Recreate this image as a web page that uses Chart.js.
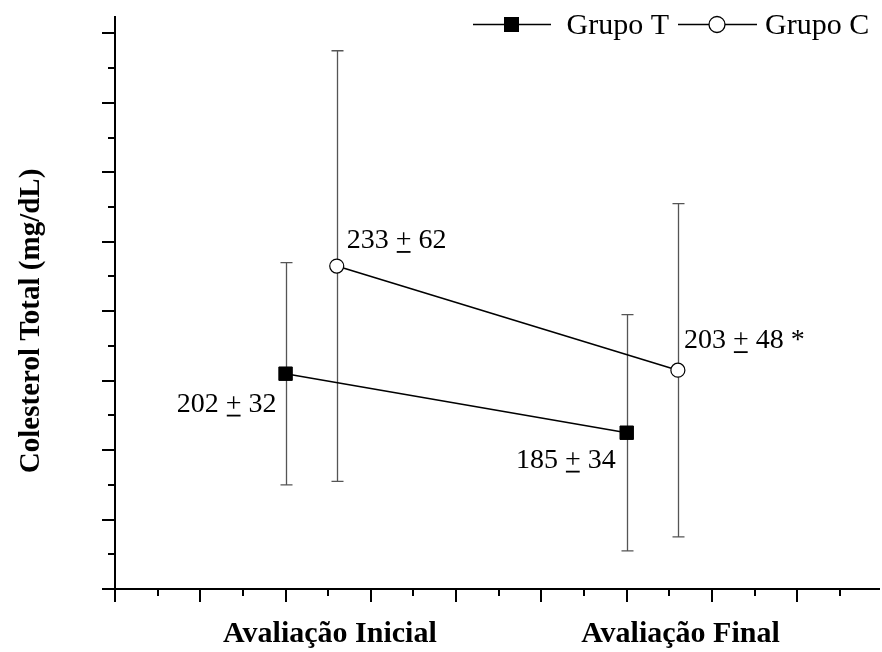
<!DOCTYPE html>
<html>
<head>
<meta charset="utf-8">
<script src="https://cdn.jsdelivr.net/npm/chart.js@4/dist/chart.umd.min.js"></script>
<style>
  html, body { margin: 0; padding: 0; background: #ffffff; }
  #wrap { width: 882px; height: 652px; }
</style>
</head>
<body>
<div id="wrap"><canvas id="chart" width="882" height="652"></canvas></div>
<script>
// Cholesterol means and standard deviations per group and assessment
const categories = ['Avaliação Inicial', 'Avaliação Final'];
const categoryX = [2.52, 6.63];
const groupNames = ['Grupo T', 'Grupo C'];
const groupTx = [2, 6];
const groupTmean = [202, 185];
const groupTsd = [32, 34];
const groupCx = [2.6, 6.6];
const groupCmean = [233, 203];
const groupCsd = [62, 48];
const groupCmark = ['', ' *'];
const groupTmark = ['', ''];
const yTitle = 'Colesterol Total (mg/dL)';

const SERIF = '"Liberation Serif", "Times New Roman", Times, serif';

function toPoints(xs, ys) {
  return xs.map((x, i) => ({ x: x, y: ys[i] }));
}

const seriesInfo = [
  { sd: groupTsd, mean: groupTmean, mark: groupTmark,
    // where each value label sits relative to its point
    place: [{ dx: -9, dy: 38, align: 'right' }, { dx: -11, dy: 35, align: 'right' }] },
  { sd: groupCsd, mean: groupCmean, mark: groupCmark,
    place: [{ dx: 10, dy: -18, align: 'left' }, { dx: 6, dy: -22, align: 'left' }] }
];

// draws text like "233 + 62" with the plus sign underlined
function drawPlusMinusLabel(ctx, mean, sd, mark, x, y, align) {
  const a = mean + ' ', b = '+', c = ' ' + sd + mark;
  const wa = ctx.measureText(a).width, wb = ctx.measureText(b).width, wc = ctx.measureText(c).width;
  const total = wa + wb + wc;
  let x0 = align === 'right' ? x - total : x;
  ctx.textAlign = 'left';
  ctx.textBaseline = 'alphabetic';
  ctx.fillText(a, x0, y);
  ctx.fillText(b, x0 + wa, y);
  ctx.fillText(c, x0 + wa + wb, y);
  ctx.fillRect(x0 + wa + 1, y + 3, wb - 2, 1.8);
}

const decorations = {
  id: 'decorations',
  beforeDatasetsDraw(chart) {
    const ctx = chart.ctx;
    const xs = chart.scales.x, ys = chart.scales.y;
    const area = chart.chartArea;
    ctx.save();
    // axes
    ctx.strokeStyle = '#000';
    ctx.lineWidth = 2;
    ctx.beginPath();
    ctx.moveTo(area.left, area.top);
    ctx.lineTo(area.left, area.bottom);
    ctx.lineTo(area.right, area.bottom);
    ctx.stroke();
    // y ticks (outward, left): major every 20, minor every 10
    for (let v = 140; v <= ys.max + 0.001; v += 10) {
      const py = Math.round(ys.getPixelForValue(v));
      const major = (v % 20) === 0;
      const len = major ? 13 : 7;
      ctx.beginPath();
      ctx.moveTo(area.left - len, py);
      ctx.lineTo(area.left, py);
      ctx.stroke();
    }
    // x ticks (outward, down): major every 1, minor every 0.5
    for (let v = 0; v <= xs.max + 0.001; v += 0.5) {
      const px = Math.round(xs.getPixelForValue(v));
      const major = Math.abs(v - Math.round(v)) < 0.01;
      const len = major ? 13 : 7;
      ctx.beginPath();
      ctx.moveTo(px, area.bottom);
      ctx.lineTo(px, area.bottom + len);
      ctx.stroke();
    }
    // error bars (mean ± SD)
    ctx.strokeStyle = '#555';
    ctx.lineWidth = 1.3;
    chart.data.datasets.forEach((ds, di) => {
      const info = seriesInfo[di];
      ds.data.forEach((p, i) => {
        const px = Math.round(xs.getPixelForValue(p.x)) + 0.5;
        const top = ys.getPixelForValue(p.y + info.sd[i]);
        const bot = ys.getPixelForValue(p.y - info.sd[i]);
        ctx.beginPath();
        ctx.moveTo(px, top); ctx.lineTo(px, bot);
        ctx.moveTo(px - 6, top); ctx.lineTo(px + 6, top);
        ctx.moveTo(px - 6, bot); ctx.lineTo(px + 6, bot);
        ctx.stroke();
      });
    });
    ctx.restore();
  },
  afterDatasetsDraw(chart) {
    const ctx = chart.ctx;
    const xs = chart.scales.x, ys = chart.scales.y;
    const area = chart.chartArea;
    ctx.save();
    ctx.fillStyle = '#000';
    // value labels
    ctx.font = '28px ' + SERIF;
    chart.data.datasets.forEach((ds, di) => {
      const info = seriesInfo[di];
      ds.data.forEach((p, i) => {
        const px = xs.getPixelForValue(p.x);
        const py = ys.getPixelForValue(p.y);
        const pl = info.place[i];
        drawPlusMinusLabel(ctx, info.mean[i], info.sd[i], info.mark[i], px + pl.dx, py + pl.dy, pl.align);
      });
    });
    // category labels under the x axis
    ctx.font = 'bold 30px ' + SERIF;
    ctx.textAlign = 'center';
    ctx.textBaseline = 'alphabetic';
    categories.forEach((c, i) => {
      ctx.fillText(c, xs.getPixelForValue(categoryX[i]), area.bottom + 53);
    });
    // y axis title
    ctx.save();
    ctx.translate(38.5, ys.getPixelForValue(217.2));
    ctx.rotate(-Math.PI / 2);
    ctx.font = 'bold 29px ' + SERIF;
    ctx.textAlign = 'center';
    ctx.fillText(yTitle, 0, 0);
    ctx.restore();
    // legend
    ctx.font = '30px ' + SERIF;
    ctx.textAlign = 'left';
    ctx.strokeStyle = '#000';
    ctx.lineWidth = 1.3;
    const ly = 24.5;
    // Grupo T
    ctx.beginPath(); ctx.moveTo(473, ly); ctx.lineTo(551, ly); ctx.stroke();
    ctx.fillRect(504, ly - 7.5, 15, 15);
    ctx.fillText(groupNames[0], 566.5, 34);
    // Grupo C
    ctx.beginPath(); ctx.moveTo(678, ly); ctx.lineTo(757, ly); ctx.stroke();
    ctx.beginPath(); ctx.arc(717, ly, 8, 0, Math.PI * 2);
    ctx.fillStyle = '#fff'; ctx.fill(); ctx.stroke();
    ctx.fillStyle = '#000';
    ctx.fillText(groupNames[1], 765, 34);
    ctx.restore();
  }
};

new Chart(document.getElementById('chart'), {
  type: 'scatter',
  data: {
    datasets: [
      {
        label: groupNames[0],
        data: toPoints(groupTx, groupTmean),
        showLine: true,
        borderColor: '#000',
        borderWidth: 1.6,
        pointStyle: 'rect',
        pointRadius: 9.5,
        pointBackgroundColor: '#000',
        pointBorderColor: '#000',
        pointBorderWidth: 1
      },
      {
        label: groupNames[1],
        data: toPoints(groupCx, groupCmean),
        showLine: true,
        borderColor: '#000',
        borderWidth: 1.6,
        pointStyle: 'circle',
        pointRadius: 7,
        pointBackgroundColor: '#fff',
        pointBorderColor: '#000',
        pointBorderWidth: 1.2
      }
    ]
  },
  options: {
    responsive: false,
    animation: false,
    layout: { autoPadding: false, padding: { left: 115, top: 16, right: 2, bottom: 63 } },
    scales: {
      x: { type: 'linear', min: 0, max: 8.97, display: false },
      y: { type: 'linear', min: 140, max: 305, display: false }
    },
    plugins: {
      legend: { display: false },
      tooltip: { enabled: false }
    }
  },
  plugins: [decorations]
});
</script>
</body>
</html>
